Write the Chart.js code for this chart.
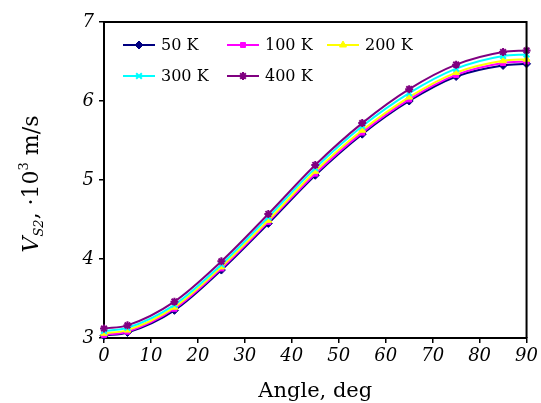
<!DOCTYPE html>
<html>
<head>
<meta charset="utf-8">
<script src="https://cdn.jsdelivr.net/npm/chart.js@4"></script>
<style>
  html, body { margin: 0; padding: 0; background: #fff; }
  #wrap { width: 541px; height: 403px; }
</style>
</head>
<body>
<div id="wrap"><canvas id="velChart" width="541" height="403"></canvas></div>
<script>
// angles, deg
const angles = [0, 5, 15, 25, 35, 45, 55, 65, 75, 85, 90];
// V_S2, 10^3 m/s
const v50 = [3.03, 3.07, 3.35, 3.86, 4.45, 5.06, 5.58, 6.00, 6.31, 6.45, 6.47];
const v100 = [3.04, 3.08, 3.37, 3.88, 4.47, 5.08, 5.60, 6.02, 6.33, 6.48, 6.50];
const v200 = [3.06, 3.10, 3.39, 3.90, 4.49, 5.11, 5.63, 6.05, 6.36, 6.51, 6.53];
const v300 = [3.09, 3.13, 3.42, 3.93, 4.53, 5.15, 5.68, 6.10, 6.41, 6.57, 6.59];
const v400 = [3.12, 3.16, 3.46, 3.97, 4.57, 5.19, 5.72, 6.15, 6.46, 6.62, 6.64];
const seriesLabels = ['50 K', '100 K', '200 K', '300 K', '400 K'];
const xTicks = [0, 10, 20, 30, 40, 50, 60, 70, 80, 90];
const yTicks = [3, 4, 5, 6, 7];

const colors = ['#000080', '#ff00ff', '#ffff00', '#00ffff', '#800080'];
const markers = ['rectRot', 'rect', 'triangle', 'crossRot', 'star'];
const allValues = [v50, v100, v200, v300, v400];

function makeSet(i) {
    return {
        label: seriesLabels[i],
        data: angles.map((a, k) => ({ x: a, y: allValues[i][k] })),
        borderColor: colors[i],
        backgroundColor: colors[i],
        borderWidth: 2,
        pointStyle: markers[i],
        pointRadius: markers[i] === 'rect' ? 3.5 : 4,
        pointBorderWidth: (markers[i] === 'crossRot' || markers[i] === 'star') ? 2 : 1,
        cubicInterpolationMode: 'monotone',
        fill: false,
        clip: false,
        order: 4 - i
    };
}

const serif = "'DejaVu Serif', 'Liberation Serif', serif";

// legend drawn inside the plot, two rows
const insideLegend = {
    id: 'insideLegend',
    afterDatasetsDraw(chart) {
        const ctx = chart.ctx;
        const spots = [[123, 45], [227, 45], [327, 45], [123, 76], [227, 76]];
        ctx.save();
        chart.data.datasets.forEach((ds, i) => {
            const [x0, y] = spots[i];
            ctx.strokeStyle = ds.borderColor;
            ctx.lineWidth = 2;
            ctx.beginPath();
            ctx.moveTo(x0, y);
            ctx.lineTo(x0 + 32, y);
            ctx.stroke();
            ctx.fillStyle = ds.backgroundColor;
            ctx.strokeStyle = ds.borderColor;
            ctx.lineWidth = ds.pointBorderWidth;
            Chart.helpers.drawPoint(ctx, { pointStyle: ds.pointStyle, radius: ds.pointRadius, rotation: 0, borderWidth: ds.pointBorderWidth }, x0 + 16, y);
            ctx.fillStyle = '#000';
            ctx.font = '16px ' + serif;
            ctx.textBaseline = 'middle';
            ctx.textAlign = 'left';
            ctx.fillText(ds.label, x0 + 38, y + 1);
        });
        ctx.restore();
    }
};

// frame and axis titles
const frameAndTitles = {
    id: 'frameAndTitles',
    afterDraw(chart) {
        const ctx = chart.ctx;
        const a = chart.chartArea;
        ctx.save();
        ctx.strokeStyle = '#000';
        ctx.lineWidth = 2;
        ctx.beginPath();
        ctx.moveTo(a.left, a.top);
        ctx.lineTo(a.right, a.top);
        ctx.lineTo(a.right, a.bottom);
        ctx.stroke();

        ctx.fillStyle = '#000';
        ctx.font = '21px ' + serif;
        ctx.textAlign = 'center';
        ctx.textBaseline = 'alphabetic';
        ctx.fillText('Angle, deg', (a.left + a.right) / 2, 397);

        // y title, rotated, built from pieces
        ctx.translate(38, 184);
        ctx.rotate(-Math.PI / 2);
        const pieces = [
            { t: 'V', f: 'italic 22px ' + serif, dy: 0 },
            { t: 'S2', f: 'italic 13px ' + serif, dy: 5 },
            { t: ', \u00b710', f: '22px ' + serif, dy: 0 },
            { t: '3', f: '13px ' + serif, dy: -10 },
            { t: ' m/s', f: '22px ' + serif, dy: 0 }
        ];
        let total = 0;
        pieces.forEach(p => { ctx.font = p.f; p.w = ctx.measureText(p.t).width; total += p.w; });
        let x = -total / 2;
        ctx.textAlign = 'left';
        pieces.forEach(p => {
            ctx.font = p.f;
            ctx.fillText(p.t, x, p.dy);
            x += p.w;
        });
        ctx.restore();
    }
};

const ctx1 = document.getElementById('velChart').getContext('2d');
new Chart(ctx1, {
    type: 'line',
    data: {
        datasets: [0, 1, 2, 3, 4].map(makeSet)
    },
    options: {
        responsive: false,
        animation: false,
        layout: { padding: { left: 0, right: 10, top: 22, bottom: 0 } },
        plugins: {
            legend: { display: false },
            tooltip: { enabled: false }
        },
        scales: {
            x: {
                type: 'linear',
                min: 0,
                max: 90,
                afterBuildTicks: (scale) => { scale.ticks = xTicks.map(v => ({ value: v })); },
                afterFit: (scale) => { scale.height = 65; },
                grid: { drawOnChartArea: false, tickLength: 5, color: '#000', lineWidth: 1.5 },
                border: { color: '#000', width: 2 },
                ticks: { color: '#000', font: { family: serif, size: 18, style: 'italic' }, padding: 3, maxRotation: 0 }
            },
            y: {
                min: 3,
                max: 7,
                afterBuildTicks: (scale) => { scale.ticks = yTicks.map(v => ({ value: v })); },
                afterFit: (scale) => { scale.width = 104; },
                grid: { drawOnChartArea: false, tickLength: 5, color: '#000', lineWidth: 1.5 },
                border: { color: '#000', width: 2 },
                ticks: { color: '#000', font: { family: serif, size: 18, style: 'italic' }, padding: 5 }
            }
        }
    },
    plugins: [insideLegend, frameAndTitles]
});
</script>
</body>
</html>
